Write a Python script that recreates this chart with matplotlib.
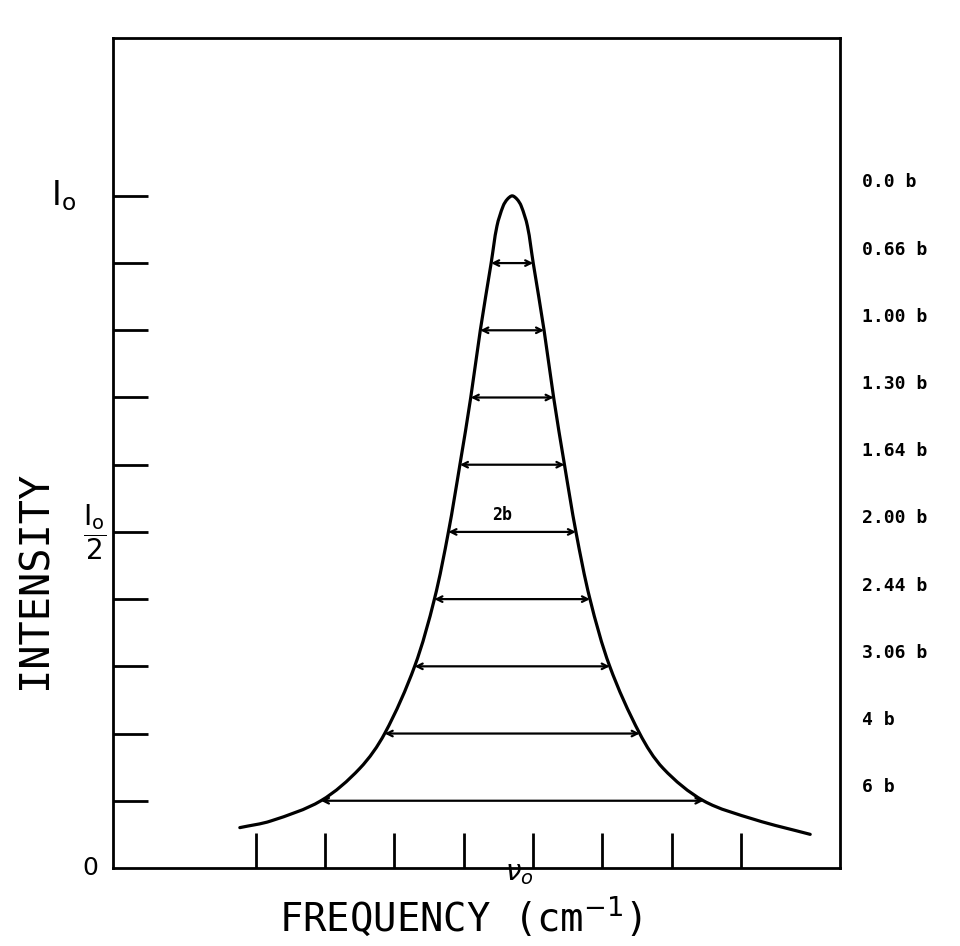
import numpy as np
import matplotlib.pyplot as plt
from matplotlib.path import Path
from matplotlib.patches import PathPatch

# line centre and half width b (frequency axis in tick units)
nu_peak = -0.3
half_b = 0.92

# intensity levels (fraction of I0) and full widths in units of b
levels = [1.0, 0.9, 0.8, 0.7, 0.6, 0.5, 0.4, 0.3, 0.2, 0.1]
widths = [0.0, 0.66, 1.00, 1.30, 1.64, 2.00, 2.44, 3.06, 4.0, 6.0]
width_labels = ['0.0 b', '0.66 b', '1.00 b', '1.30 b', '1.64 b',
                '2.00 b', '2.44 b', '3.06 b', '4 b', '6 b']

# extra points on the drawn profile: round top and the two wings
top_dx = [0.07, 0.13, 0.22]
top_y = [0.995, 0.985, 0.955]
wing_left_x = [-4.23, -3.78, -2.5]
wing_left_y = [0.06, 0.07, 0.148]
wing_right_x = [1.88, 3.2, 4.0]
wing_right_y = [0.148, 0.072, 0.05]

freq_ticks = [-4, -3, -2, -1, 0, 1, 2, 3]
int_ticks = [0.1, 0.2, 0.3, 0.4, 0.5, 0.6, 0.7, 0.8, 0.9, 1.0]


def smooth_path(ax, xs, ys):
    # cubic Hermite through the points, parametrised by on-screen chord length
    p = np.column_stack([xs, ys])
    d = ax.transData.transform(p)
    t = np.concatenate([[0], np.cumsum(np.hypot(*np.diff(d, axis=0).T))])
    n = len(p)
    m = np.zeros_like(p)
    m[1:-1] = (p[2:] - p[:-2]) / (t[2:] - t[:-2])[:, None]
    m[0] = (p[1] - p[0]) / (t[1] - t[0])
    m[-1] = (p[-1] - p[-2]) / (t[-1] - t[-2])
    verts = [p[0]]
    codes = [Path.MOVETO]
    for i in range(n - 1):
        h = t[i + 1] - t[i]
        verts += [p[i] + m[i] * h / 3, p[i + 1] - m[i + 1] * h / 3, p[i + 1]]
        codes += [Path.CURVE4] * 3
    return Path(verts, codes)


# collect the profile points
pts = []
for lv, w in zip(levels, widths):
    hw = w * half_b / 2
    pts.append((nu_peak - hw, lv))
    if hw > 0:
        pts.append((nu_peak + hw, lv))
for dx, y in zip(top_dx, top_y):
    pts.append((nu_peak - dx, y))
    pts.append((nu_peak + dx, y))
pts += list(zip(wing_left_x, wing_left_y))
pts += list(zip(wing_right_x, wing_right_y))
pts.sort()
px = [p[0] for p in pts]
py = [p[1] for p in pts]

fig = plt.figure(figsize=(9.6, 9.46), dpi=100)
ax = fig.add_axes([0.1177, 0.0825, 0.7573, 0.8774])
ax.set_xlim(-6.06, 4.43)
ax.set_ylim(0, 1.235)

ax.add_patch(PathPatch(smooth_path(ax, px, py), fill=False, lw=2.3,
                       edgecolor='black', capstyle='round'))

# width arrows at each level
for lv, w in zip(levels[1:], widths[1:]):
    hw = w * half_b / 2
    ax.annotate('', xy=(nu_peak + hw, lv), xytext=(nu_peak - hw, lv),
                arrowprops=dict(arrowstyle='<->', lw=1.6, color='black',
                                shrinkA=0, shrinkB=0, mutation_scale=10))
ax.text(nu_peak - 0.15, 0.5 + 0.012, '2b', ha='center', va='bottom',
        fontsize=12, fontweight='bold', family='DejaVu Sans Mono')

# labels on the right
for lv, lab in zip(levels, width_labels):
    ax.text(1.03, lv + 0.02, lab, transform=ax.get_yaxis_transform(),
            ha='left', va='center', fontsize=13, fontweight='bold',
            family='DejaVu Sans Mono')

ax.set_xticks(freq_ticks)
ax.set_xticklabels([])
ax.set_yticks(int_ticks)
ax.set_yticklabels([])
ax.tick_params(axis='both', direction='in', length=25, width=2)
for s in ax.spines.values():
    s.set_linewidth(2)

# intensity marks on the left
ax.text(-0.05, 1.0, r'$\mathrm{I_o}$', transform=ax.get_yaxis_transform(),
        ha='right', va='center', fontsize=24)
ax.text(-0.01, 0.5, r'$\dfrac{\mathrm{I_o}}{2}$',
        transform=ax.get_yaxis_transform(), ha='right', va='center',
        fontsize=20)
ax.text(-0.02, 0, '0', transform=ax.transAxes, ha='right', va='center',
        fontsize=18)
ax.text(-0.2, -0.006, r'$\nu_o$', transform=ax.get_xaxis_transform(),
        ha='center', va='center', fontsize=20)

fig.text(461 / 960, 1 - 917 / 946, 'FREQUENCY (cm$^{-1}$)', ha='center',
         va='center', fontsize=28, family='DejaVu Sans Mono')
fig.text(36 / 960, 1 - 580 / 946, 'INTENSITY', ha='center', va='center',
         rotation=90, fontsize=29, family='DejaVu Sans Mono')

fig.savefig('out.png', dpi=100)
